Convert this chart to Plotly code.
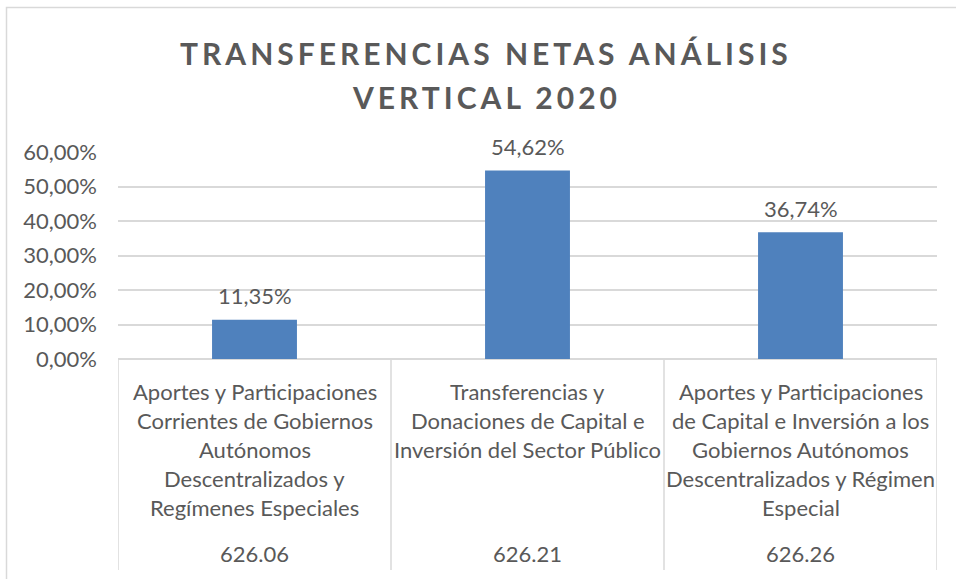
import json
import plotly.graph_objects as go

# --- data -------------------------------------------------------------
TITLE_LINES = ["TRANSFERENCIAS NETAS ANÁLISIS", "VERTICAL 2020"]
codes = ["626.06", "626.21", "626.26"]
labels = [
    "Aportes y Participaciones<br>Corrientes de Gobiernos<br>Autónomos<br>Descentralizados y<br>Regímenes Especiales",
    "Transferencias y<br>Donaciones de Capital e<br>Inversión del Sector Público",
    "Aportes y Participaciones<br>de Capital e Inversión a los<br>Gobiernos Autónomos<br>Descentralizados y Régimen<br>Especial",
]
values = [11.35, 54.62, 36.74]  # percent
y_ticks = [0, 10, 20, 30, 40, 50, 60]

# --- styling ----------------------------------------------------------
W, H = 956, 579
L, R, T, B = 118, 937, 152, 359          # plot area in pixels
TEXT = "#595959"
GRID = "#D9D9D9"
BAR = "#4F81BD"
FONT = "Lato"


def px_x(px):
    return (px - L) / (R - L)


def px_y(py):
    return (B - py) / (B - T)


def pct(v):
    return f"{v:.2f}%".replace(".", ",")


xs = list(range(len(codes)))

fig = go.Figure(
    go.Bar(x=xs, y=values, marker=dict(color=BAR, line=dict(width=0)), hoverinfo="skip")
)

annotations = []
shapes = []

# title, two centred lines
for i, line in enumerate(TITLE_LINES):
    annotations.append(dict(
        text=line, xref="paper", yref="paper", x=px_x(486), y=px_y(52.5 + 45 * i),
        xanchor="center", yanchor="middle", showarrow=False,
        font=dict(family=FONT, size=30, color=TEXT, weight="bold"),
    ))

# value labels above each bar
for x, v in zip(xs, values):
    annotations.append(dict(
        text=pct(v), x=x, y=v, xref="x", yref="y", xanchor="center", yanchor="middle",
        yshift=24, showarrow=False, font=dict(family=FONT, size=22, color=TEXT),
    ))

# category table under the axis
for x, lab, code in zip(xs, labels, codes):
    for j, line in enumerate(lab.split("<br>")):
        annotations.append(dict(
            text=line, x=x, xref="x", yref="paper", y=px_y(391 + 29.1 * j),
            xanchor="center", yanchor="middle", showarrow=False,
            font=dict(family=FONT, size=22, color=TEXT),
        ))
    annotations.append(dict(
        text=code, x=x, xref="x", yref="paper", y=px_y(553.5),
        xanchor="center", yanchor="middle", showarrow=False,
        font=dict(family=FONT, size=22, color=TEXT),
    ))

# vertical separators of the category table
for xb in [-0.5, 0.5, 1.5, 2.5]:
    shapes.append(dict(
        type="line", xref="x", yref="paper", x0=xb, x1=xb, y0=0, y1=px_y(570),
        line=dict(color=GRID, width=1.5),
    ))

# chart frame
shapes.append(dict(
    type="rect", xref="paper", yref="paper",
    x0=px_x(6.5), x1=px_x(975), y0=px_y(600), y1=px_y(7.5),
    line=dict(color=GRID, width=1.5), fillcolor="rgba(0,0,0,0)", layer="below",
))

fig.update_layout(
    width=W, height=H,
    margin=dict(l=L, r=W - R, t=T, b=H - B, pad=0),
    paper_bgcolor="white", plot_bgcolor="white",
    bargap=0.689,
    showlegend=False,
    annotations=annotations,
    shapes=shapes,
    font=dict(family=FONT, color=TEXT),
)
fig.update_xaxes(
    range=[-0.5, 2.5], showticklabels=False, showgrid=False, zeroline=False,
    showline=False, ticks="", fixedrange=True,
)
fig.update_yaxes(
    range=[0, 60], tickmode="array", tickvals=y_ticks, ticktext=[pct(v) for v in y_ticks],
    showgrid=True, gridcolor=GRID, gridwidth=1.5,
    zeroline=True, zerolinecolor=GRID, zerolinewidth=1.5,
    showline=False, ticks="", ticklabelstandoff=20,
    tickfont=dict(family=FONT, size=22, color=TEXT), fixedrange=True,
)

# widen the tracking of the title lines
post = """
(function(){
  var lines = %s;
  function track(){
    document.querySelectorAll('text').forEach(function(t){
      if (lines.indexOf(t.textContent) >= 0) { t.style.letterSpacing = '4px'; }
    });
  }
  track();
  setTimeout(track, 30);
  setTimeout(track, 300);
})();
""" % json.dumps(TITLE_LINES)

fig.write_html("out.html", post_script=post, config={"displayModeBar": False})
